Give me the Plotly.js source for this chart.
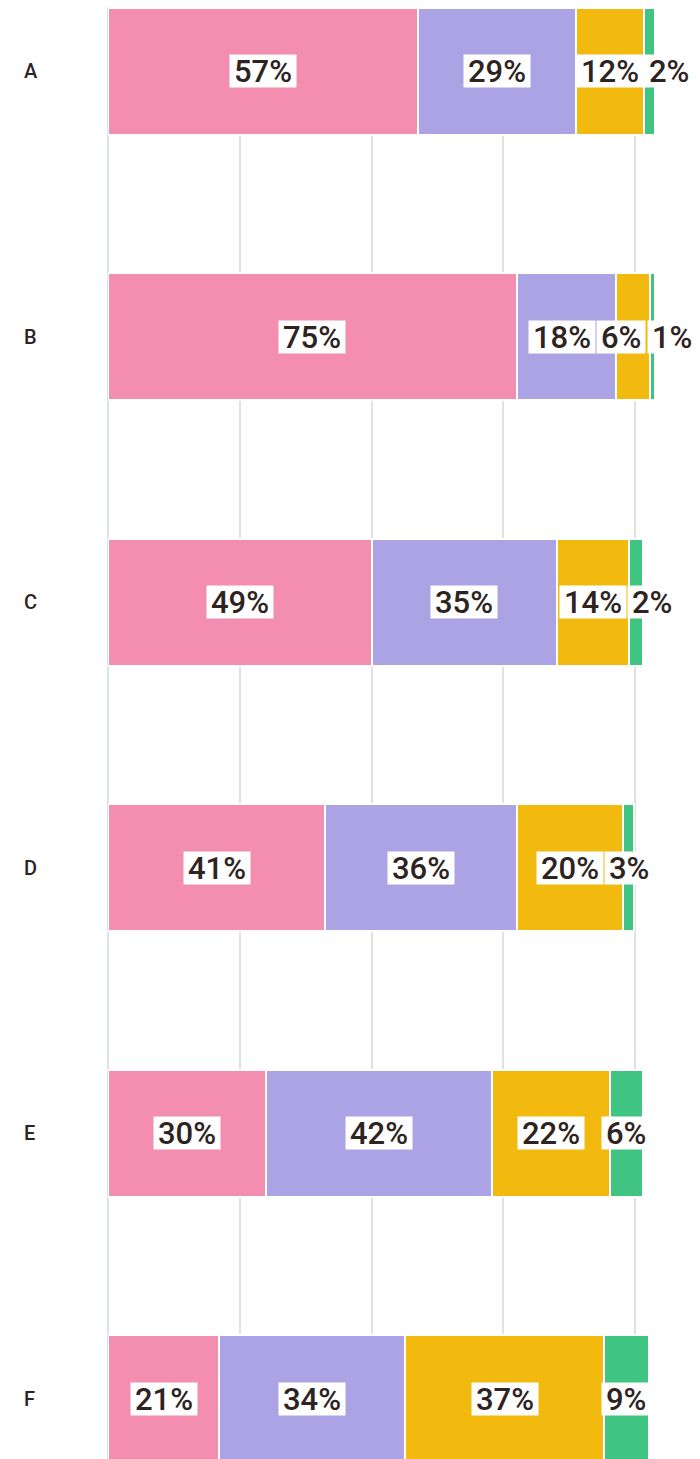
<!DOCTYPE html>
<html><head><meta charset="utf-8">
<script src="https://cdn.plot.ly/plotly-3.0.1.min.js"></script>
<style>html,body{margin:0;padding:0;background:#fff}#chart{width:700px;height:1459px}</style>
</head><body><div id="chart"></div>
<script>
// ---- data ----
const categories = ['A', 'B', 'C', 'D', 'E', 'F'];
const seriesNames = ['Series 1', 'Series 2', 'Series 3', 'Series 4'];
const series1 = [235.1, 310.4, 200.0, 164.7, 119.9, 84.6];
const series2 = [120.3, 75.5, 141.0, 145.9, 171.5, 141.0];
const series3 = [51.3, 25.6, 54.4, 80.2, 89.6, 150.8];
const series4 = [8.8, 4.0, 10.5, 8.5, 24.9, 34.2];
const labels1 = ['57%', '75%', '49%', '41%', '30%', '21%'];
const labels2 = ['29%', '18%', '35%', '36%', '42%', '34%'];
const labels3 = ['12%', '6%', '14%', '20%', '22%', '37%'];
const labels4 = ['2%', '1%', '2%', '3%', '6%', '9%'];

// ---- style ----
const colors = ['#f38eb0', '#aca3e4', '#f2b90f', '#3fc481'];
const textColor = '#2e231f';
const W = 700, H = 1459;
const margin = {l: 108, r: 0, t: 7, b: 0};
const xMax = 449.3;
const fontFamily = 'Roboto, "Open Sans", sans-serif';
const labelSize = 31, labelPad = 4, labelGap = 2;

const allSeries = [series1, series2, series3, series4];
const allLabels = [labels1, labels2, labels3, labels4];

const traces = allSeries.map((vals, s) => ({
  type: 'bar', orientation: 'h', name: seriesNames[s],
  x: vals, y: categories,
  marker: {color: colors[s], line: {color: '#ffffff', width: 2}},
  hoverinfo: 'none', showlegend: false
}));

// label measurement for overlap avoidance
const ctx = document.createElement('canvas').getContext('2d');
ctx.font = '500 ' + labelSize + 'px Roboto';
const plotW = W - margin.l - margin.r;
const pxPerUnit = plotW / xMax;
const rightLimit = plotW - 4;

const annotations = [];
categories.forEach((cat, i) => {
  annotations.push({
    xref: 'paper', yref: 'y', x: 0, y: cat, xanchor: 'left', xshift: -86,
    text: cat, showarrow: false,
    font: {family: fontFamily, size: 20, weight: 500, color: textColor}
  });
  let cum = 0;
  const items = allSeries.map((vals, s) => {
    const v = vals[i];
    const center = cum + v / 2;
    cum += v;
    const txt = allLabels[s][i];
    const w = ctx.measureText(txt).width + 2 * labelPad;
    return {center, txt, w, desired: center * pxPerUnit};
  });
  // forward pass: push right to avoid overlap
  let prevRight = -Infinity;
  items.forEach(it => {
    it.pos = Math.max(it.desired, prevRight + labelGap + it.w / 2);
    prevRight = it.pos + it.w / 2;
  });
  // backward pass: keep inside the right edge
  let limit = rightLimit;
  for (let k = items.length - 1; k >= 0; k--) {
    const it = items[k];
    it.pos = Math.min(it.pos, limit - it.w / 2);
    limit = it.pos - it.w / 2 - labelGap;
  }
  items.forEach(it => {
    annotations.push({
      xref: 'x', yref: 'y', x: it.center, y: cat, xanchor: 'center', yanchor: 'middle',
      xshift: it.pos - it.desired,
      text: it.txt, showarrow: false, bgcolor: '#ffffff', borderpad: labelPad,
      height: 24, valign: 'middle',
      font: {family: fontFamily, size: labelSize, weight: 500, color: textColor}
    });
  });
});

const layout = {
  width: W, height: H, margin: margin,
  paper_bgcolor: '#ffffff', plot_bgcolor: '#ffffff',
  barmode: 'stack', bargap: 0.52,
  showlegend: false,
  xaxis: {
    range: [0, xMax], tick0: 0, dtick: 100, showticklabels: false, ticks: '',
    showgrid: true, gridcolor: '#e1e1e1', gridwidth: 2,
    zeroline: true, zerolinecolor: '#dce3ed', zerolinewidth: 2, fixedrange: true
  },
  yaxis: {
    type: 'category', range: [5.227, -0.242], showticklabels: false, ticks: '',
    showgrid: false, zeroline: false, fixedrange: true
  },
  annotations: annotations,
  font: {family: fontFamily, color: textColor}
};

Plotly.newPlot('chart', traces, layout, {displayModeBar: false, staticPlot: true});
</script>
</body></html>
